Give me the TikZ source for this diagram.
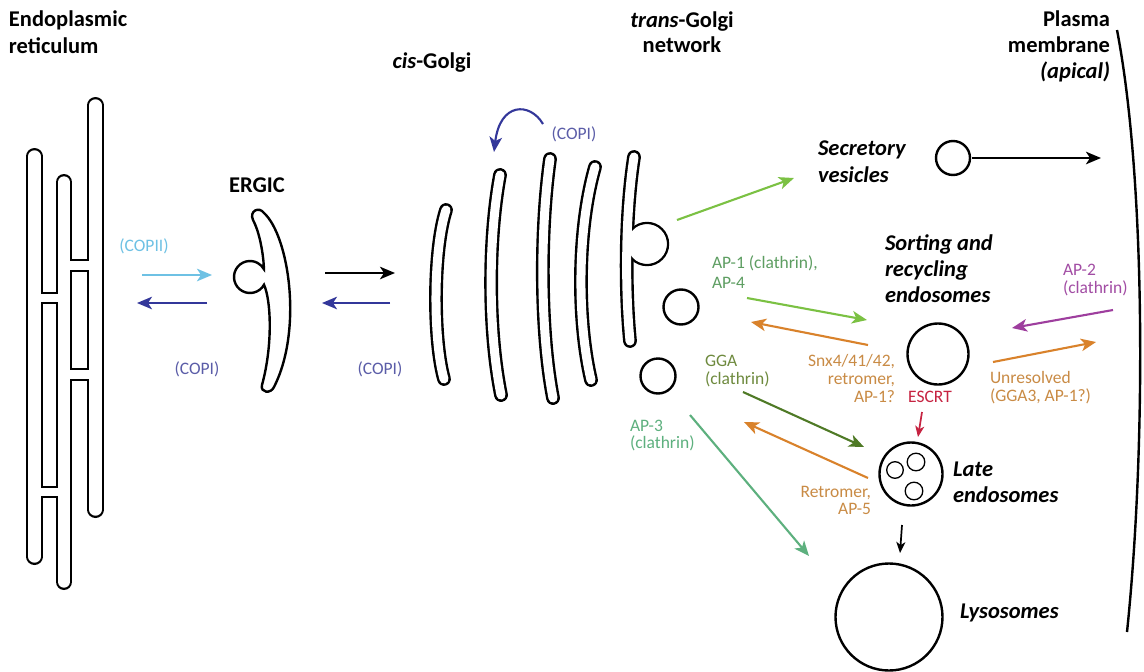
\documentclass[tikz,border=0pt]{standalone}
\usepackage{fontspec}
\setmainfont{Carlito}
\usetikzlibrary{arrows.meta}

\definecolor{copiiblue}{HTML}{6EC1E4}
\definecolor{copiblue}{HTML}{33379A}
\definecolor{copitext}{HTML}{5B5DA8}
\definecolor{secgreen}{HTML}{7BC143}
\definecolor{aponetext}{HTML}{5E9E62}
\definecolor{retro}{HTML}{D9822B}
\definecolor{retrotext}{HTML}{C98B45}
\definecolor{ggatext}{HTML}{6E8A3E}
\definecolor{ggaarrow}{HTML}{4F7A26}
\definecolor{apthree}{HTML}{5DB07E}
\definecolor{escrt}{HTML}{C62341}
\definecolor{aptwo}{HTML}{9E3E9E}
\definecolor{aptwotext}{HTML}{A24DA4}

% opening between two neighbouring ER tubes: erase both walls, close with two rungs
\newcommand\erbridge[4]{%
  \fill[white] (#1-1.5,#3) rectangle (#2+1.5,#4);
  \draw[line width=2.3pt, line cap=rect] (#1,#3) -- (#2,#3) (#1,#4) -- (#2,#4);}

\begin{document}
\begin{tikzpicture}[x=1pt,y=-1pt,
  every node/.style={inner sep=0pt, outer sep=0pt},
  title/.style={font=\fontsize{22.5}{27}\selectfont\bfseries},
  ititle/.style={font=\fontsize{22.5}{27}\selectfont\bfseries\itshape},
  lab/.style={font=\fontsize{17.5}{19}\selectfont},
  memb/.style={line width=2.4pt, draw=black, fill=white},
  vesicle/.style={circle, draw=black, line width=2.4pt, fill=white},
  tube/.style={line width=2.3pt, double=white, double distance=12.2pt, line cap=round},
  cist/.style={line width=2.4pt, double=white, double distance=9pt, line cap=round},
  arr/.style={line width=2.1pt, -{Stealth[length=15pt, width=12.5pt, inset=4pt]}},
  smallarr/.style={line width=1.7pt, -{Stealth[length=11pt, width=9pt, inset=3pt]}},
]
\useasboundingbox (0,0) rectangle (1144,672);
\fill[white] (0,0) rectangle (1144,672);

% ---------- compartment titles ----------
\node[title, anchor=base west] (er1) at (9,26) {Endoplasmic};
\node[title, anchor=base west] (er2) at (9,53) {reticulum};
\node[title, anchor=base] (cis) at (432,68) {\textit{cis}-Golgi};
\node[title, anchor=base] (tgn1) at (682,27) {\textit{trans}-Golgi};
\node[title, anchor=base] (tgn2) at (682,52) {network};
\node[title, anchor=base east] (pm1) at (1110,26) {Plasma};
\node[title, anchor=base east] (pm2) at (1110,52) {membrane};
\node[ititle, anchor=base east] (pm3) at (1110,78) {(apical)};
\node[title, anchor=base] (ergiclab) at (257,192) {ERGIC};

% ---------- endoplasmic reticulum ----------
\draw[tube] (34.5,156.4) -- (34.5,556.6);
\draw[tube] (64,182.4) -- (64,581.6);
\draw[tube] (95.5,105.4) -- (95.5,509.6);
\erbridge{41.8}{56.7}{293}{303}
\erbridge{71.3}{88.2}{260}{271}
\erbridge{71.3}{88.2}{369}{380}
\erbridge{41.8}{56.7}{487}{497}

% ---------- ERGIC: curved cisterna with a budding vesicle ----------
\draw[memb] (264,269.25)
  .. controls (263,248) and (258,229) .. (253,220)
  .. controls (249,211) and (259,206) .. (264,213)
  .. controls (289,236) and (303,330) .. (274,387)
  .. controls (271,394) and (260,393) .. (262,385)
  .. controls (273,345) and (271,300) .. (264,284.75)
  arc[start angle=28.96, end angle=331.04, radius=16]
  -- cycle;

% ---------- Golgi stack ----------
\draw[cist] (446,210) .. controls (433,250) and (433,340) .. (444,379);
\draw[cist] (500,175) .. controls (488,240) and (488,330) .. (501,395);
\draw[cist] (550,159) .. controls (540,230) and (540,330) .. (553,398);
\draw[cist] (595,167) .. controls (577,230) and (577,320) .. (591,380);
% trans-most cisterna with its bud
\draw[memb] (647,244) circle[radius=21];
\draw[cist] (634,157) .. controls (625,215) and (625,290) .. (630,341);
\fill[white] (647,244) circle[radius=19.7];
% free TGN carriers
\node[vesicle, minimum size=35pt] (tv1) at (681,307) {};
\node[vesicle, minimum size=35pt] (tv2) at (658,376) {};

% ---------- post-Golgi compartments ----------
\node[vesicle, minimum size=34pt] (sv) at (953,158) {};
\node[vesicle, minimum size=61pt] (se) at (938,354) {};
\node[vesicle, minimum size=63pt] (le) at (911,474) {};
\draw[line width=1.3pt] (895,470) circle[radius=8.3] (916,462) circle[radius=8.8] (914,491) circle[radius=8.8];
\node[vesicle, minimum size=107pt] (lyso) at (889,617) {};

% plasma membrane
\draw[line width=2.4pt] (1117,30) .. controls (1146,180) and (1146,450) .. (1127,632);

\node[ititle, anchor=base west] (svl1) at (818,155) {Secretory};
\node[ititle, anchor=base west] (svl2) at (818,182) {vesicles};
\node[ititle, anchor=base west] (sel1) at (885,250) {Sorting and};
\node[ititle, anchor=base west] (sel2) at (885,276) {recycling};
\node[ititle, anchor=base west] (sel3) at (885,302) {endosomes};
\node[ititle, anchor=base west] (lel1) at (953,476) {Late};
\node[ititle, anchor=base west] (lel2) at (953,502) {endosomes};
\node[ititle, anchor=base west] (lyl) at (960,618) {Lysosomes};

% ---------- transport labels ----------
\node[lab, text=copiiblue, anchor=base] (copii) at (144,251) {(COPII)};
\node[lab, text=copitext, anchor=base] (copi1) at (197,374) {(COPI)};
\node[lab, text=copitext, anchor=base] (copi2) at (380,374) {(COPI)};
\node[lab, text=copitext, anchor=base] (copi3) at (574,139) {(COPI)};
\node[lab, text=aponetext, anchor=base west] (ap1a) at (712,268) {AP-1 (clathrin),};
\node[lab, text=aponetext, anchor=base west] (ap1b) at (712,288) {AP-4};
\node[lab, text=retrotext, anchor=base east] (snxa) at (895,366) {Snx4/41/42,};
\node[lab, text=retrotext, anchor=base east] (snxb) at (895,384) {retromer,};
\node[lab, text=retrotext, anchor=base east] (snxc) at (895,402) {AP-1?};
\node[lab, text=ggatext, anchor=base west] (ggaa) at (705,366) {GGA};
\node[lab, text=ggatext, anchor=base west] (ggab) at (705,384) {(clathrin)};
\node[lab, text=escrt, anchor=base] (esc) at (930,402) {ESCRT};
\node[lab, text=apthree, anchor=base west] (ap3a) at (630,431) {AP-3};
\node[lab, text=apthree, anchor=base west] (ap3b) at (630,448) {(clathrin)};
\node[lab, text=retrotext, anchor=base east] (reta) at (871,497) {Retromer,};
\node[lab, text=retrotext, anchor=base east] (retb) at (871,514) {AP-5};
\node[lab, text=retrotext, anchor=base west] (unra) at (990,383) {Unresolved};
\node[lab, text=retrotext, anchor=base west] (unrb) at (990,401) {(GGA3, AP-1?)};
\node[lab, text=aptwotext, anchor=base west] (ap2a) at (1063,275) {AP-2};
\node[lab, text=aptwotext, anchor=base west] (ap2b) at (1063,293) {(clathrin)};

% ---------- arrow end points ----------
\coordinate (erOut) at (142,275);   \coordinate (ergicIn) at (212,275);
\coordinate (ergicBack) at (207,303); \coordinate (erIn) at (137,303);
\coordinate (ergicOut) at (325,273); \coordinate (golgiIn) at (395,273);
\coordinate (golgiBack) at (390,303); \coordinate (ergicRet) at (322,303);
\coordinate (intraA) at (543,124);  \coordinate (intraB) at (494,152);
\coordinate (tgnSec) at (677,220);  \coordinate (secIn) at (794,178);
\coordinate (secOut) at (972,158);  \coordinate (pmIn) at (1101,158);
\coordinate (tgnAP1) at (747,298);  \coordinate (seIn) at (867,320);
\coordinate (seOut) at (868,345);   \coordinate (tgnRet1) at (751,322);
\coordinate (tgnGGA) at (743,392);  \coordinate (leIn) at (864,447);
\coordinate (leOut) at (868,478);   \coordinate (tgnRet2) at (744,422);
\coordinate (tgnAP3) at (690,415);  \coordinate (lyIn) at (809,556);
\coordinate (escA) at (922,412);    \coordinate (escB) at (918,437);
\coordinate (leDown) at (902,525);  \coordinate (lyTop) at (900,553);
\coordinate (pmEndo) at (1113,310); \coordinate (seAP2) at (1012,328);
\coordinate (seUnr) at (993,362);   \coordinate (pmUnr) at (1096,342);

% ---------- arrows ----------
\draw[arr, copiiblue] (erOut) -- (ergicIn);
\draw[arr, copiblue] (ergicBack) -- (erIn);
\draw[arr, black] (ergicOut) -- (golgiIn);
\draw[arr, copiblue] (golgiBack) -- (ergicRet);
\draw[arr, copiblue] (intraA) .. controls (530,102) and (500,102) .. (intraB);
\draw[arr, secgreen] (tgnSec) -- (secIn);
\draw[arr, black] (secOut) -- (pmIn);
\draw[arr, secgreen] (tgnAP1) -- (seIn);
\draw[arr, retro] (seOut) -- (tgnRet1);
\draw[arr, ggaarrow] (tgnGGA) -- (leIn);
\draw[arr, retro] (leOut) -- (tgnRet2);
\draw[arr, apthree] (tgnAP3) -- (lyIn);
\draw[smallarr, escrt] (escA) -- (escB);
\draw[smallarr, black] (leDown) -- (lyTop);
\draw[arr, aptwo] (pmEndo) -- (seAP2);
\draw[arr, retro] (seUnr) -- (pmUnr);
\end{tikzpicture}
\end{document}
